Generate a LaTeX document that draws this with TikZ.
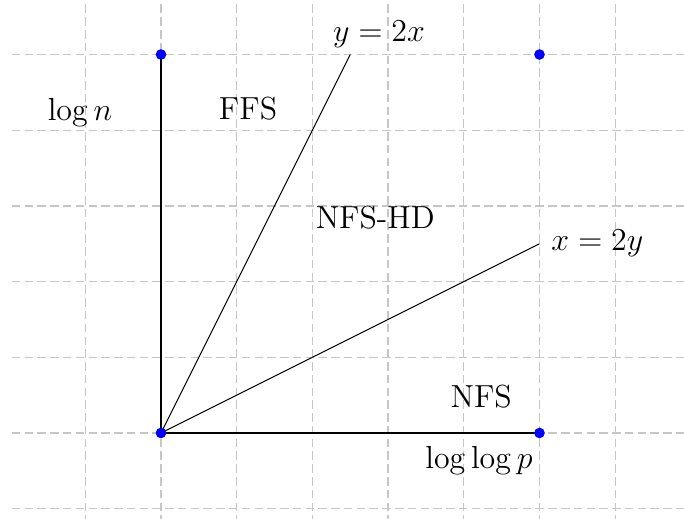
\documentclass[tikz,border=0pt]{standalone}
\begin{document}
\begin{tikzpicture}[
  gridline/.style={gray!45, dash pattern=on 3.2pt off 1.6pt, line width=0.5pt},
  dot/.style={circle, fill=blue, inner sep=0pt, minimum size=4pt},
  lbl/.style={inner sep=0pt, font=\large}
]
\useasboundingbox (-2.127,-1.136) rectangle (6.909,5.72);
\foreach \x in {-1,...,6} \draw[gridline] (\x,-1.2) -- (\x,5.68);
\foreach \y in {-1,...,5} \draw[gridline] (-1.97,\y) -- (6.95,\y);
\coordinate (O) at (0,0);
\coordinate (A) at (5,0);
\coordinate (B) at (0,5);
\coordinate (C) at (5,5);
\coordinate (P) at (2.5,5);
\coordinate (Q) at (5,2.5);
\draw (B) -- (O) -- (A);
\draw (O) -- (P);
\draw (O) -- (Q);
\node[dot] (dO) at (O) {};
\node[dot] (dA) at (A) {};
\node[dot] (dB) at (B) {};
\node[dot] (dC) at (C) {};
\node[lbl] (ly) at (2.88,5.27) {$y=2x$};
\node[lbl, anchor=west] (lx) at (5.15,2.5) {$x=2y$};
\node[lbl] (ln) at (-1.07,4.24) {$\log n$};
\node[lbl] (ffs) at (1.15,4.29) {FFS};
\node[lbl] (nfshd) at (2.83,2.85) {NFS-HD};
\node[lbl] (nfs) at (4.23,0.48) {NFS};
\node[lbl] (llp) at (4.2,-0.36) {$\log\log p$};
\end{tikzpicture}
\end{document}
